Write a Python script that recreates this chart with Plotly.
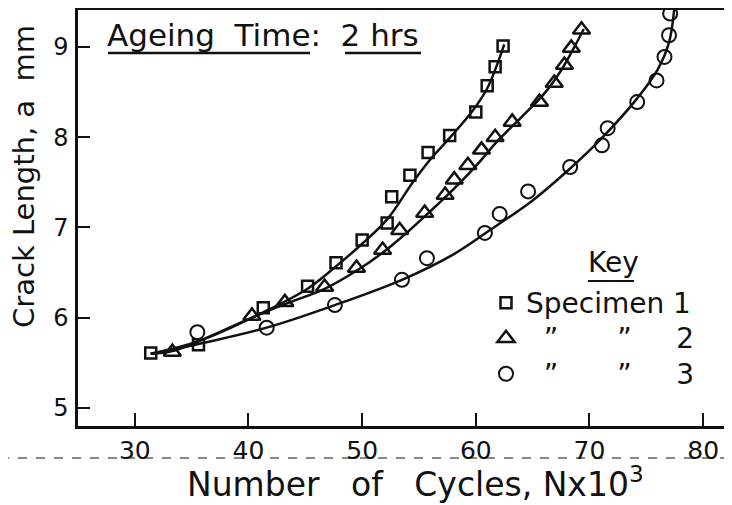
import plotly.graph_objects as go

# ---- data ----
spec1_n = [31.4, 35.6, 41.3, 45.2, 47.7, 50.0, 52.2, 52.6, 54.2, 55.8, 57.7, 60.0, 61.0, 61.7, 62.4]
spec1_a = [5.61, 5.70, 6.11, 6.35, 6.61, 6.86, 7.05, 7.34, 7.58, 7.83, 8.02, 8.28, 8.57, 8.78, 9.01]

spec2_n = [33.3, 40.3, 43.2, 46.7, 49.5, 51.8, 53.3, 55.5, 57.3, 58.1, 59.3, 60.5, 61.7, 63.2, 65.6, 66.9, 67.8, 68.4, 69.3]
spec2_a = [5.62, 6.02, 6.17, 6.34, 6.55, 6.75, 6.97, 7.16, 7.36, 7.53, 7.69, 7.86, 8.00, 8.17, 8.39, 8.60, 8.80, 8.99, 9.19]

spec3_n = [35.5, 41.6, 47.6, 53.5, 55.7, 60.8, 62.1, 64.6, 68.3, 71.1, 71.6, 74.2, 75.9, 76.6, 77.0, 77.1]
spec3_a = [5.84, 5.89, 6.14, 6.42, 6.66, 6.94, 7.15, 7.40, 7.67, 7.91, 8.10, 8.39, 8.63, 8.89, 9.13, 9.37]

# fitted curves as drawn in the picture
fit1_n = [31.4, 35.6, 41.3, 45.3, 47.8, 50.0, 52.2, 54.4, 55.9, 57.9, 59.7, 61.0, 61.8, 62.5]
fit1_a = [5.60, 5.74, 6.06, 6.33, 6.58, 6.82, 7.09, 7.49, 7.74, 8.02, 8.29, 8.54, 8.78, 9.03]

fit2_n = [31.4, 33.3, 36.0, 40.3, 43.2, 46.7, 49.5, 51.8, 54.0, 56.0, 58.0, 60.0, 62.0, 64.0, 66.0, 67.5, 68.5, 69.5]
fit2_a = [5.60, 5.63, 5.76, 6.00, 6.15, 6.32, 6.52, 6.72, 6.95, 7.18, 7.42, 7.68, 7.97, 8.22, 8.48, 8.74, 8.96, 9.20]

fit3_n = [31.4, 36.0, 41.6, 47.6, 53.5, 58.0, 61.0, 65.0, 68.0, 71.0, 74.0, 76.0, 77.0, 77.45]
fit3_a = [5.60, 5.72, 5.89, 6.14, 6.42, 6.70, 6.95, 7.30, 7.62, 7.98, 8.40, 8.75, 9.05, 9.41]

x_ticks = [30, 40, 50, 60, 70, 80]
y_ticks = [5, 6, 7, 8, 9]

NB = "\u00a0"
TH = "\u2009"
DIT = "\u201d"
SPAN = '<span style="font-size:28px">{}</span>'
legend_names = [
    SPAN.format("Specimen 1"),
    SPAN.format(NB * 2 + DIT + NB * 6 + TH + DIT + NB * 5 + "2"),
    SPAN.format(NB * 2 + DIT + NB * 6 + TH + DIT + NB * 5 + "3"),
]

FONT = "DejaVu Sans"
BLACK = "#111111"

fig = go.Figure()

for fn, fa in [(fit1_n, fit1_a), (fit2_n, fit2_a), (fit3_n, fit3_a)]:
    fig.add_trace(go.Scatter(x=fn, y=fa, mode="lines", line=dict(color=BLACK, width=2.5, shape="spline"),
                             showlegend=False, hoverinfo="skip"))

fig.add_trace(go.Scatter(x=spec1_n, y=spec1_a, mode="markers", name=legend_names[0],
                         marker=dict(symbol="square-open", size=11, color=BLACK, line=dict(width=2.5, color=BLACK))))
fig.add_trace(go.Scatter(x=spec2_n, y=spec2_a, mode="markers", name=legend_names[1],
                         marker=dict(symbol="triangle-up-open", size=15, color=BLACK, line=dict(width=2.5, color=BLACK))))
fig.add_trace(go.Scatter(x=spec3_n, y=spec3_a, mode="markers", name=legend_names[2],
                         marker=dict(symbol="circle-open", size=14, color=BLACK, line=dict(width=2, color=BLACK))))

# the page body adds an 8px offset, so the figure is shifted/shrunk to compensate
OFF = 8
W, H = 732 - OFF, 505 - OFF
PLOT_L, PLOT_R, PLOT_T, PLOT_B = 78, 727, 10, 426   # target pixel box of the plot area
L, R, T, B = PLOT_L - OFF, W - (PLOT_R - OFF), PLOT_T - OFF, H - (PLOT_B - OFF)
PW, PH = PLOT_R - PLOT_L, PLOT_B - PLOT_T

def px(x):
    return (x - PLOT_L) / PW

def py(y):
    return (PLOT_B - y) / PH

fig.update_layout(
    width=W, height=H,
    margin=dict(l=L, r=R, t=T, b=B, autoexpand=False),
    paper_bgcolor="white", plot_bgcolor="white",
    font=dict(family=FONT, color=BLACK),
    xaxis=dict(range=[25, 82.1], tickvals=x_ticks, ticks="inside", ticklen=13, tickwidth=2, tickcolor=BLACK,
               showline=True, linewidth=2.5, linecolor=BLACK, mirror=True, showgrid=False, zeroline=False,
               tickfont=dict(size=25, family=FONT), ticklabelstandoff=0),
    yaxis=dict(range=[4.8, 9.41], tickvals=y_ticks, ticks="inside", ticklen=12, tickwidth=2, tickcolor=BLACK,
               showline=True, linewidth=2.5, linecolor=BLACK, mirror=True, showgrid=False, zeroline=False,
               tickfont=dict(size=24, family=FONT), ticklabelstandoff=2),
    legend=dict(x=px(486), y=py(280), xanchor="left", yanchor="top", bgcolor="rgba(0,0,0,0)",
                font=dict(size=25, family=FONT), itemsizing="trace", tracegroupgap=0),
    showlegend=True,
)

# x-axis title
fig.add_annotation(text="Number" + NB * 3 + "of" + NB * 3 + "Cycles," + NB + "Nx10<sup>3</sup>",
                   xref="paper", yref="paper", x=px(415), y=py(482),
                   showarrow=False, font=dict(size=33, family=FONT), xanchor="center", yanchor="middle")

# y-axis title (shifted upward as in the original)
fig.add_annotation(text="Crack Length, a" + NB * 2 + "mm", xref="paper", yref="paper", x=px(24), y=py(177),
                   textangle=-90, showarrow=False, font=dict(size=29, family=FONT), xanchor="center", yanchor="middle")

# Ageing time label
fig.add_annotation(text="Ageing  Time:  2 hrs", xref="paper", yref="paper", x=px(105), y=py(35),
                   showarrow=False, font=dict(size=31, family=FONT), xanchor="left", yanchor="middle")
fig.add_shape(type="line", xref="paper", yref="paper", x0=px(108), x1=px(310), y0=py(53), y1=py(53),
              line=dict(color=BLACK, width=2.5))
fig.add_shape(type="line", xref="paper", yref="paper", x0=px(345), x1=px(421), y0=py(53), y1=py(53),
              line=dict(color=BLACK, width=2.5))

# Key label
fig.add_annotation(text="Key", xref="paper", yref="paper", x=px(613), y=py(262),
                   showarrow=False, font=dict(size=28, family=FONT), xanchor="center", yanchor="middle")
fig.add_shape(type="line", xref="paper", yref="paper", x0=px(588), x1=px(634), y0=py(281), y1=py(281),
              line=dict(color=BLACK, width=2))

# dashed scan line under the axis
fig.add_shape(type="line", xref="paper", yref="paper", x0=px(0), x1=px(732), y0=py(458), y1=py(458),
              line=dict(color=BLACK, width=1.2, dash="dash"))

fig.write_html("out.html")
